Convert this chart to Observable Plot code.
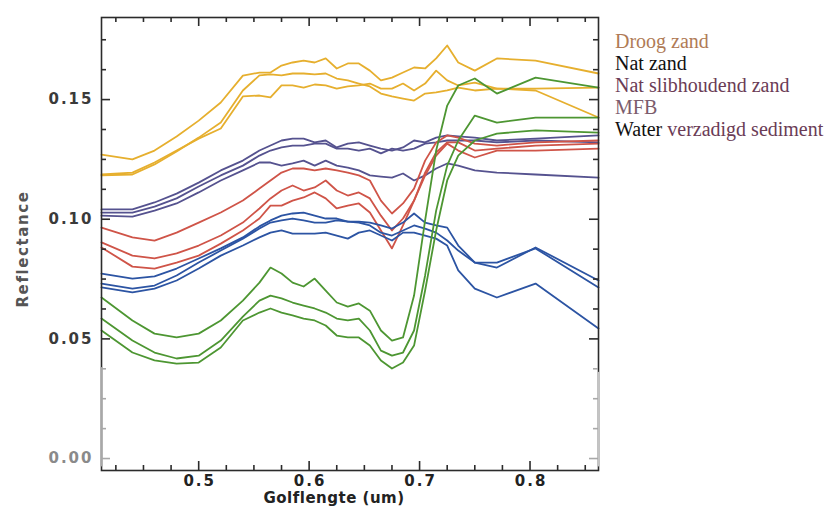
<!DOCTYPE html>
<html>
<head>
<meta charset="utf-8">
<script src="https://cdn.jsdelivr.net/npm/d3@7"></script>
<script src="https://cdn.jsdelivr.net/npm/@observablehq/plot@0.6"></script>
<style>
  html, body { margin: 0; padding: 0; background: #fff; }
  #wrap { position: relative; width: 828px; height: 509px; }
  #legend {
    position: absolute; left: 615px; top: 30px;
    font-family: "Liberation Serif", "Times New Roman", "DejaVu Serif", serif;
    font-size: 20px; line-height: 22px; white-space: nowrap;
  }
  #chart svg text { letter-spacing: 2px; }
  #chart svg text[aria-label="x-title"] { letter-spacing: 0.5px; }
  #chart svg text[aria-label="y-title"] { letter-spacing: 1.6px; }
</style>
</head>
<body>
<div id="wrap">
  <div id="chart"></div>
  <div id="legend"></div>
</div>
<script>
// Sampled wavelengths (µm)
const wavelength = [0.412, 0.44, 0.46, 0.48, 0.50, 0.52, 0.54, 0.555, 0.565, 0.575,
  0.585, 0.595, 0.605, 0.615, 0.625, 0.635, 0.645, 0.655, 0.665, 0.675,
  0.685, 0.695, 0.705, 0.715, 0.725, 0.735, 0.75, 0.77, 0.805, 0.862];

// Reflectance spectra, three per sediment class
const droogZand = [
  [0.1270,0.1250,0.1287,0.1346,0.1412,0.1488,0.1600,0.1613,0.1613,0.1642,0.1655,0.1663,0.1655,0.1672,0.1630,0.1651,0.1651,0.1621,0.1580,0.1592,0.1613,0.1634,0.1630,0.1672,0.1726,0.1655,0.1621,0.1672,0.1663,0.1609],
  [0.1187,0.1195,0.1237,0.1287,0.1337,0.1379,0.1513,0.1517,0.1509,0.1559,0.1559,0.1550,0.1563,0.1559,0.1546,0.1555,0.1559,0.1567,0.1546,0.1546,0.1567,0.1538,0.1567,0.1621,0.1580,0.1559,0.1571,0.1546,0.1546,0.1550],
  [0.1183,0.1187,0.1229,0.1283,0.1341,0.1404,0.1538,0.1601,0.1605,0.1601,0.1609,0.1609,0.1605,0.1609,0.1588,0.1580,0.1567,0.1555,0.1525,0.1513,0.1504,0.1496,0.1525,0.1530,0.1538,0.1550,0.1538,0.1546,0.1538,0.1425]
];
const natZand = [
  [0.1041,0.1041,0.1070,0.1107,0.1153,0.1204,0.1245,0.1287,0.1308,0.1329,0.1337,0.1337,0.1321,0.1329,0.1300,0.1316,0.1321,0.1308,0.1295,0.1287,0.1300,0.1329,0.1321,0.1341,0.1350,0.1346,0.1341,0.1329,0.1337,0.1350],
  [0.1028,0.1028,0.1053,0.1087,0.1137,0.1183,0.1224,0.1266,0.1287,0.1300,0.1308,0.1308,0.1316,0.1316,0.1295,0.1295,0.1287,0.1295,0.1275,0.1295,0.1287,0.1295,0.1316,0.1321,0.1329,0.1329,0.1329,0.1321,0.1329,0.1321],
  [0.1015,0.1011,0.1036,0.1066,0.1112,0.1162,0.1204,0.1237,0.1237,0.1224,0.1233,0.1245,0.1224,0.1245,0.1224,0.1216,0.1204,0.1183,0.1178,0.1174,0.1191,0.1162,0.1183,0.1212,0.1233,0.1224,0.1204,0.1195,0.1187,0.1174]
];
const slibhoudendZand = [
  [0.0965,0.0924,0.0911,0.0944,0.0986,0.1028,0.1078,0.1128,0.1162,0.1195,0.1212,0.1212,0.1204,0.1212,0.1204,0.1195,0.1183,0.1162,0.1078,0.1024,0.1066,0.1128,0.1245,0.1321,0.1350,0.1341,0.1316,0.1308,0.1321,0.1329],
  [0.0903,0.0848,0.0836,0.0857,0.0890,0.0932,0.0986,0.1045,0.1087,0.1120,0.1141,0.1120,0.1133,0.1162,0.1120,0.1099,0.1112,0.1087,0.1015,0.0953,0.1003,0.1078,0.1195,0.1279,0.1321,0.1321,0.1287,0.1295,0.1308,0.1316],
  [0.0882,0.0802,0.0794,0.0819,0.0848,0.0898,0.0953,0.1003,0.1057,0.1057,0.1078,0.1091,0.1112,0.1087,0.1045,0.1057,0.1066,0.1028,0.0953,0.0878,0.0974,0.1078,0.1183,0.1266,0.1316,0.1287,0.1258,0.1287,0.1287,0.1295]
];
const mfb = [
  [0.0673,0.0577,0.0522,0.0506,0.0522,0.0577,0.0660,0.0735,0.0798,0.0773,0.0735,0.0719,0.0752,0.0702,0.0652,0.0635,0.0648,0.0618,0.0535,0.0493,0.0506,0.0681,0.0995,0.1287,0.1475,0.1559,0.1588,0.1525,0.1592,0.1550],
  [0.0585,0.0493,0.0443,0.0418,0.0430,0.0493,0.0593,0.0660,0.0681,0.0669,0.0652,0.0639,0.0627,0.0610,0.0585,0.0577,0.0585,0.0535,0.0451,0.0430,0.0443,0.0535,0.0765,0.1036,0.1224,0.1329,0.1433,0.1404,0.1425,0.1425],
  [0.0535,0.0443,0.0410,0.0397,0.0401,0.0464,0.0577,0.0610,0.0627,0.0610,0.0598,0.0585,0.0577,0.0556,0.0514,0.0506,0.0506,0.0472,0.0410,0.0376,0.0401,0.0472,0.0702,0.0953,0.1162,0.1266,0.1329,0.1358,0.1371,0.1362]
];
const waterVerzadigd = [
  [0.0773,0.0752,0.0761,0.0794,0.0836,0.0878,0.0924,0.0970,0.0995,0.1015,0.1024,0.1028,0.1015,0.1003,0.1003,0.0990,0.0990,0.0986,0.0974,0.0961,0.0986,0.1024,0.0986,0.0974,0.0965,0.0890,0.0819,0.0798,0.0882,0.0744],
  [0.0731,0.0710,0.0723,0.0765,0.0819,0.0869,0.0919,0.0961,0.0986,0.0995,0.1003,0.0995,0.0986,0.0986,0.0995,0.0990,0.0986,0.0974,0.0944,0.0932,0.0953,0.0974,0.0961,0.0944,0.0911,0.0869,0.0819,0.0819,0.0878,0.0715],
  [0.0715,0.0694,0.0710,0.0744,0.0794,0.0848,0.0890,0.0924,0.0944,0.0953,0.0940,0.0940,0.0940,0.0944,0.0932,0.0919,0.0944,0.0953,0.0932,0.0911,0.0944,0.0944,0.0932,0.0919,0.0890,0.0786,0.0710,0.0673,0.0731,0.0543]
];

// Axis ticks
const yMajor = [0, 0.05, 0.10, 0.15];
const yMinor = [0.0125, 0.025, 0.0375, 0.0625, 0.075, 0.0875, 0.1125, 0.125, 0.1375, 0.1625, 0.175];
const xMajor = [0.5, 0.6, 0.7, 0.8];
const xMinor = [0.425, 0.45, 0.475, 0.525, 0.55, 0.575, 0.625, 0.65, 0.675, 0.725, 0.75, 0.775, 0.825, 0.85];

const classes = [
  {series: droogZand, color: "#e6af2e"},
  {series: natZand, color: "#55528f"},
  {series: slibhoudendZand, color: "#cf5448"},
  {series: waterVerzadigd, color: "#2c54a3"},
  {series: mfb, color: "#4d9632"}
];

const legendItems = [
  [["Droog zand", "#b07b56"]],
  [["Nat zand", "#111111"]],
  [["Nat slibhoudend zand", "#6b3c56"]],
  [["MFB", "#7b5c6c"]],
  [["Water", "#111111"], [" verzadigd sediment", "#6b3c56"]]
];

const rows = classes.flatMap((c, ci) =>
  c.series.flatMap((s, si) =>
    s.map((v, i) => ({w: wavelength[i], v, id: ci + "-" + si, color: c.color}))));

const W = 828, H = 509;
const mL = 101, mR = 230, mT = 17, mB = 39;
const fw = W - mL - mR, fh = H - mT - mB;
const xDom = [0.412, 0.862], yDom = [-0.005, 0.1843];
const dark = "#2b2b2b", faint = "#a8a8a8";
const tickColor = (d) => d < 0.04 ? faint : dark;

const labelFont = {fontFamily: "DejaVu Sans, sans-serif", fontSize: 15, fontWeight: "bold"};

const chart = Plot.plot({
  width: W, height: H,
  marginLeft: mL, marginRight: mR, marginTop: mT, marginBottom: mB,
  x: {domain: xDom, axis: null},
  y: {domain: yDom, axis: null},
  color: {type: "identity"},
  style: {background: "#fff", overflow: "visible"},
  marks: [
    Plot.line(rows, {x: "w", y: "v", z: "id", stroke: "color", strokeWidth: 1.8, strokeLinejoin: "round"}),
    Plot.frame({stroke: dark, strokeWidth: 1.6}),
    // faded lower stretch of the side borders
    Plot.ruleX([xDom[0]], {y1: -0.0035, y2: 0.038, stroke: faint, strokeWidth: 2}),
    Plot.ruleX([xDom[1]], {y1: -0.0035, y2: 0.036, stroke: "#c4c4c4", strokeWidth: 2}),
    // inward ticks, left and right
    Plot.tickY(yMajor, {y: d => d, insetRight: fw - 9, stroke: tickColor, strokeWidth: 1.6}),
    Plot.tickY(yMinor, {y: d => d, insetRight: fw - 5, stroke: tickColor, strokeWidth: 1.6}),
    Plot.tickY(yMajor, {y: d => d, insetLeft: fw - 9, stroke: tickColor, strokeWidth: 1.6}),
    Plot.tickY(yMinor, {y: d => d, insetLeft: fw - 5, stroke: tickColor, strokeWidth: 1.6}),
    // inward ticks, bottom and top
    Plot.tickX(xMajor, {x: d => d, insetTop: fh - 9, stroke: dark, strokeWidth: 1.6}),
    Plot.tickX(xMinor, {x: d => d, insetTop: fh - 5, stroke: dark, strokeWidth: 1.6}),
    Plot.tickX(xMajor, {x: d => d, insetBottom: fh - 9, stroke: dark, strokeWidth: 1.6}),
    Plot.tickX(xMinor, {x: d => d, insetBottom: fh - 5, stroke: dark, strokeWidth: 1.6}),
    // tick labels
    Plot.text(yMajor, {y: d => d, frameAnchor: "left", textAnchor: "end", dx: -8,
      text: d => d.toFixed(2), fill: d => d === 0 ? "#8a8a8a" : "#3a3a3a", ...labelFont}),
    Plot.text(xMajor, {x: d => d, frameAnchor: "bottom", lineAnchor: "top", dy: 5, dx: 1,
      text: d => d.toFixed(1), fill: "#222", ...labelFont}),
    // axis titles
    Plot.text(["Golflengte (um)"], {frameAnchor: "bottom", lineAnchor: "top", dy: 22, dx: -16,
      text: d => d, fill: "#222", ariaLabel: () => "x-title", ...labelFont}),
    Plot.text(["Reflectance"], {frameAnchor: "left", textAnchor: "middle", rotate: -90, dx: -78, dy: 5,
      text: d => d, fill: "#555", ariaLabel: () => "y-title", ...labelFont})
  ]
});
document.getElementById("chart").appendChild(chart);

// legend beside the plot
const legend = document.getElementById("legend");
for (const parts of legendItems) {
  const line = document.createElement("div");
  for (const [txt, col] of parts) {
    const span = document.createElement("span");
    span.textContent = txt;
    span.style.color = col;
    line.appendChild(span);
  }
  legend.appendChild(line);
}
</script>
</body>
</html>
